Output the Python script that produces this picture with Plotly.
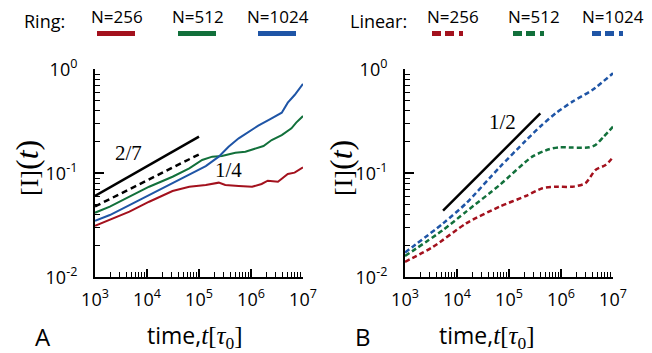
import plotly.graph_objects as go

# ---------------- data ----------------
series_names = ["N=256", "N=512", "N=1024"]
colors = ["#a3111d", "#12703b", "#1f55a6"]

# Panel A: Ring
ring_256_t = [1e3, 1.93e3, 4.6e3, 1.1e4, 3.1e4, 6.5e4, 1.35e5, 2.4e5, 3.2e5, 5.8e5, 1.05e6, 1.6e6, 2.1e6, 3.3e6, 5.1e6, 6.9e6, 1e7]
ring_256_y = [0.0313, 0.0356, 0.0428, 0.0533, 0.0676, 0.0743, 0.0771, 0.0813, 0.0771, 0.0755, 0.0743, 0.0789, 0.0849, 0.0830, 0.0984, 0.1014, 0.114]

ring_512_t = [1e3, 1.93e3, 4.6e3, 1.1e4, 3.1e4, 6.5e4, 1.15e5, 1.8e5, 2.75e5, 5.0e5, 7.8e5, 1.2e6, 1.74e6, 2.5e6, 3.9e6, 6.0e6, 7.4e6, 1e7]
ring_512_y = [0.0418, 0.0478, 0.0596, 0.0743, 0.0927, 0.1117, 0.1343, 0.1445, 0.1466, 0.1578, 0.1614, 0.1738, 0.1828, 0.2089, 0.2333, 0.2710, 0.3069, 0.3556]

ring_1024_t = [1e3, 1.93e3, 4.6e3, 1.1e4, 3.1e4, 6.5e4, 1.35e5, 2.4e5, 3.7e5, 5.8e5, 8.9e5, 1.38e6, 2.3e6, 3.9e6, 5.1e6, 6.9e6, 1e7]
ring_1024_y = [0.0350, 0.0397, 0.0495, 0.0618, 0.0802, 0.0977, 0.1175, 0.1445, 0.1803, 0.2168, 0.2512, 0.2871, 0.3304, 0.3828, 0.4775, 0.5662, 0.7228]

# Panel B: Linear
lin_256_t = [1e3, 3.5e3, 1.5e4, 6.6e4, 2.1e5, 4.4e5, 7.9e5, 1.66e6, 2.95e6, 4.6e6, 7.2e6, 1e7]
lin_256_y = [0.0141, 0.0197, 0.0330, 0.0478, 0.0605, 0.0718, 0.0743, 0.0743, 0.0802, 0.1076, 0.1202, 0.1426]

lin_512_t = [1e3, 5.4e3, 1.5e4, 6.6e4, 2.8e5, 5.9e5, 9.1e5, 1.66e6, 3.5e6, 4.6e6, 6.6e6, 1e7]
lin_512_y = [0.0160, 0.0285, 0.0428, 0.0771, 0.1445, 0.1702, 0.1778, 0.1766, 0.1778, 0.1871, 0.2249, 0.2805]

lin_1024_t = [1e3, 5.4e3, 1.5e4, 6.6e4, 2.1e5, 4.1e5, 7.9e5, 1.66e6, 4.0e6, 1e7]
lin_1024_y = [0.0173, 0.0330, 0.0515, 0.1143, 0.2060, 0.2851, 0.3776, 0.4887, 0.6324, 0.9162]

# Reference power-law guide lines
guide_27_t = [1e3, 1e5]
guide_27_y = [0.0605, 0.2255]
guide_14_t = [1e3, 1e5]
guide_14_y = [0.048, 0.152]
guide_12_t = [5.4e3, 4.0e5]
guide_12_y = [0.0437, 0.376]

x_ticks = [1e3, 1e4, 1e5, 1e6, 1e7]
x_ticktext = ["10<sup>3</sup>", "10<sup>4</sup>", "10<sup>5</sup>", "10<sup>6</sup>", "10<sup>7</sup>"]
y_ticks = [1e-2, 1e-1, 1e0]
y_ticktext = ["10<sup>-2</sup>", "10<sup>-1</sup>", "10<sup>0</sup>"]

# ---------------- figure ----------------
fig = go.Figure()

ring = [(ring_256_t, ring_256_y), (ring_512_t, ring_512_y), (ring_1024_t, ring_1024_y)]
lin = [(lin_256_t, lin_256_y), (lin_512_t, lin_512_y), (lin_1024_t, lin_1024_y)]

for (t, y), c, n in zip(ring, colors, series_names):
    fig.add_trace(go.Scatter(x=t, y=y, mode="lines", line=dict(color=c, width=2),
                             name="Ring " + n, xaxis="x", yaxis="y", showlegend=False))

fig.add_trace(go.Scatter(x=guide_27_t, y=guide_27_y, mode="lines", line=dict(color="black", width=2.5),
                         xaxis="x", yaxis="y", showlegend=False))
fig.add_trace(go.Scatter(x=guide_14_t, y=guide_14_y, mode="lines",
                         line=dict(color="black", width=2.5, dash="6px,4px"),
                         xaxis="x", yaxis="y", showlegend=False))

for (t, y), c, n in zip(lin, colors, series_names):
    fig.add_trace(go.Scatter(x=t, y=y, mode="lines",
                             line=dict(color=c, width=2.5, dash="5px,3px", shape="spline", smoothing=0.7),
                             name="Linear " + n, xaxis="x2", yaxis="y2", showlegend=False))

fig.add_trace(go.Scatter(x=guide_12_t, y=guide_12_y, mode="lines", line=dict(color="black", width=2.5),
                         xaxis="x2", yaxis="y2", showlegend=False))

W, H = 652, 353
tickfont = dict(family="Open Sans", size=18, color="black")

minor_x = [k * 10 ** d for d in range(3, 7) for k in range(2, 10)]
minor_y = [k * 10 ** d for d in range(-2, 0) for k in range(2, 10)]


def xax(domain, anchor):
    return dict(type="log", domain=domain, anchor=anchor, range=[3, 7], automargin=False,
                tickvals=x_ticks, ticktext=x_ticktext,
                showline=True, linecolor="black", linewidth=2,
                ticks="inside", ticklen=8, tickwidth=1.5, tickcolor="black",
                minor=dict(ticks="inside", ticklen=5, tickwidth=1.2, tickcolor="black",
                           tickvals=minor_x, showgrid=False),
                showgrid=False, zeroline=False, tickfont=tickfont, ticklabelstandoff=5)


def yax(domain, anchor):
    return dict(type="log", domain=domain, anchor=anchor, range=[-2, 0], automargin=False,
                tickvals=y_ticks, ticktext=y_ticktext,
                showline=True, linecolor="black", linewidth=2,
                ticks="inside", ticklen=9, tickwidth=1.5, tickcolor="black",
                minor=dict(ticks="inside", ticklen=5, tickwidth=1.2, tickcolor="black",
                           tickvals=minor_y, showgrid=False),
                showgrid=False, zeroline=False, tickfont=tickfont, ticklabelstandoff=12)


ydom = [1 - 277.3 / H, 1 - 69.3 / H]
fig.update_layout(
    width=W, height=H, margin=dict(l=0, r=0, t=0, b=0, pad=0, autoexpand=False),
    paper_bgcolor="white", plot_bgcolor="white", showlegend=False,
    xaxis=xax([95 / W, 303 / W], "y"),
    yaxis=yax(ydom, "x"),
    xaxis2=xax([405 / W, 613 / W], "y2"),
    yaxis2=yax(ydom, "x2"),
)

serif = "Liberation Serif"
sans = "Open Sans"
ann = []

# guide labels
ann.append(dict(x=3.653, y=-0.808, xref="x", yref="y", text="2/7", showarrow=False,
                font=dict(family=serif, size=21, color="black")))
ann.append(dict(x=5.571, y=-0.968, xref="x", yref="y", text="1/4", showarrow=False,
                font=dict(family=serif, size=21, color="black")))
ann.append(dict(x=4.868, y=-0.504, xref="x2", yref="y2", text="1/2", showarrow=False,
                font=dict(family=serif, size=21, color="black")))

# y titles
ytitle = "<span style='font-size:26px'>[I]</span><span style='font-size:32px'>(<i>t</i>)</span>"
for xc in [27, 341]:
    ann.append(dict(x=xc / W, y=1 - 168 / H, xref="paper", yref="paper", text=ytitle, textangle=-90,
                    showarrow=False, xanchor="center", yanchor="middle",
                    font=dict(family=serif, size=26, color="black")))

# x titles
xtitle = ("<span style='font-family:Open Sans;font-size:23px'>time,</span>"
          "<i>t</i>[<i>τ</i><sub>0</sub>]")
for xc in [194, 486]:
    ann.append(dict(x=xc / W, y=1 - 336 / H, xref="paper", yref="paper", text=xtitle,
                    showarrow=False, xanchor="center", yanchor="middle",
                    font=dict(family=serif, size=25, color="black")))

# panel letters
for txt, xc in [("A", 43), ("B", 363)]:
    ann.append(dict(x=xc / W, y=1 - 336 / H, xref="paper", yref="paper", text=txt, showarrow=False,
                    xanchor="center", yanchor="middle", font=dict(family=sans, size=24, color="black")))

# legend texts
ann.append(dict(x=44 / W, y=1 - 21 / H, xref="paper", yref="paper", text="Ring:", showarrow=False,
                xanchor="center", yanchor="middle", font=dict(family=sans, size=18, color="black")))
ann.append(dict(x=378 / W, y=1 - 21 / H, xref="paper", yref="paper", text="Linear:", showarrow=False,
                xanchor="center", yanchor="middle", font=dict(family=sans, size=18, color="black")))

ring_leg_x = [117, 198, 278]
lin_leg_x = [453, 534, 613]
shapes = []
for n, c, xr, xl in zip(series_names, colors, ring_leg_x, lin_leg_x):
    for xc in (xr, xl):
        ann.append(dict(x=xc / W, y=1 - 17 / H, xref="paper", yref="paper", text=n, showarrow=False,
                        xanchor="center", yanchor="middle", font=dict(family=sans, size=17, color="black")))
    shapes.append(dict(type="line", xref="paper", yref="paper", x0=(xr - 20) / W, x1=(xr + 18) / W,
                       y0=1 - 33.5 / H, y1=1 - 33.5 / H, line=dict(color=c, width=5)))
    shapes.append(dict(type="line", xref="paper", yref="paper", x0=(xl - 21) / W, x1=(xl + 13) / W,
                       y0=1 - 33.5 / H, y1=1 - 33.5 / H,
                       line=dict(color=c, width=5, dash="9px,4px,9px,5px,4px,100px")))

fig.update_layout(annotations=ann, shapes=shapes)
fig.write_html("out.html", config={"displayModeBar": False},
               post_script="document.body.style.margin='0';document.body.style.padding='0';")
